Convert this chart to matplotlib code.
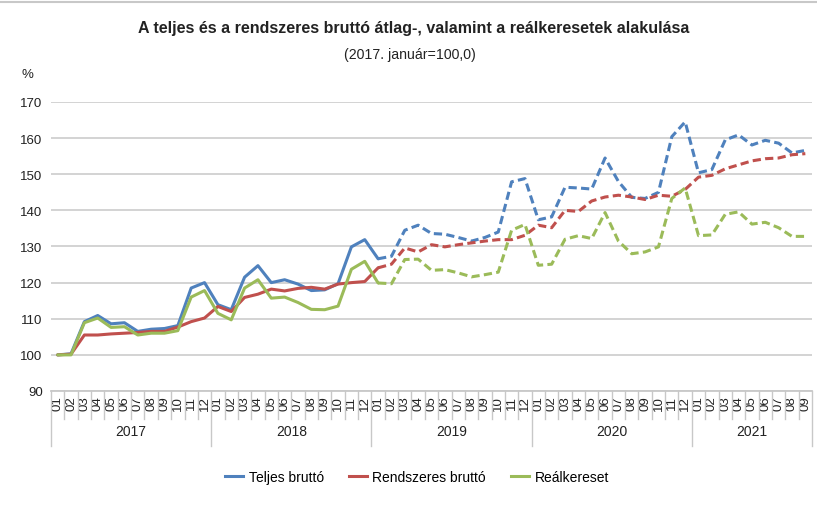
import matplotlib
matplotlib.use("Agg")
import matplotlib.pyplot as plt
import matplotlib.transforms as mtransforms
from matplotlib.lines import Line2D

plt.rcParams['font.family'] = ['Liberation Sans', 'DejaVu Sans']

years = ["2017", "2018", "2019", "2020", "2021"]
months_per_year = [12, 12, 12, 12, 9]
month_labels = [f"{m:02d}" for n in months_per_year for m in range(1, n + 1)]

teljes = [100.0, 100.3, 109.2, 110.9, 108.6, 108.9, 106.5, 107.1, 107.3, 108.1, 118.5, 120.0,
          113.9, 112.5, 121.5, 124.7, 120.0, 120.8, 119.6, 117.8, 118.0, 119.7, 129.9, 131.9,
          126.6, 127.3, 134.5, 135.9, 133.6, 133.4, 132.5, 131.5, 132.5, 134.0, 147.9, 148.8,
          137.4, 138.2, 146.4, 146.2, 145.9, 154.5, 148.0, 143.6, 143.3, 145.0, 160.4, 164.5,
          150.4, 151.3, 159.5, 160.9, 158.1, 159.4, 158.6, 155.9, 156.6]
rendszeres = [100.0, 100.2, 105.5, 105.5, 105.8, 106.0, 106.2, 106.5, 106.5, 107.7, 109.2, 110.2,
              113.4, 112.0, 115.9, 116.8, 118.2, 117.7, 118.4, 118.7, 118.2, 119.6, 120.0, 120.3,
              124.1, 125.1, 129.6, 128.5, 130.5, 129.9, 130.5, 131.0, 131.5, 131.9, 131.9, 133.1,
              135.9, 135.2, 140.0, 139.7, 142.6, 143.7, 144.2, 143.7, 143.0, 144.2, 143.9, 145.8,
              149.2, 149.7, 151.5, 152.6, 153.7, 154.3, 154.5, 155.4, 155.7]
real = [100.0, 100.0, 108.9, 110.2, 107.6, 107.8, 105.5, 106.0, 106.0, 106.7, 116.0, 117.8,
        111.5, 109.7, 118.5, 120.8, 115.7, 116.0, 114.5, 112.6, 112.5, 113.5, 123.7, 125.9,
        119.9, 119.7, 126.4, 126.5, 123.4, 123.6, 122.7, 121.6, 122.2, 122.9, 134.5, 136.1,
        124.8, 125.1, 132.0, 133.0, 132.2, 139.4, 131.5, 128.0, 128.5, 129.9, 143.3, 146.2,
        133.0, 133.2, 138.9, 139.6, 136.2, 136.7, 135.2, 132.8, 132.8]

series_names = ["Teljes bruttó", "Rendszeres bruttó", "Reálkereset"]
colors = ["#4F81BD", "#C0504D", "#9BBB59"]
split_index = 24  # 2019-01: solid before, dashed after
yticks = [90, 100, 110, 120, 130, 140, 150, 160, 170]

W, H = 817, 506
fig = plt.figure(figsize=(W / 100, H / 100), dpi=100)
fig.patch.set_facecolor("white")

left, right, top, bottom = 51, 812, 103, 392
ax = fig.add_axes([left / W, 1 - bottom / H, (right - left) / W, (bottom - top) / H])

n = len(month_labels)
x = list(range(n))
lw = 2.2
for vals, c in zip([teljes, rendszeres, real], colors):
    ax.plot(x[:split_index + 1], vals[:split_index + 1], color=c, lw=lw,
            solid_joinstyle='round', solid_capstyle='round', zorder=3)
    ax.plot(x[split_index:], vals[split_index:], color=c, lw=lw,
            linestyle=(0, (2.7, 1.4)), zorder=3)

ax.set_xlim(-0.5, n - 0.5)
ax.set_ylim(90, 170)
ax.set_yticks(yticks)
ax.set_yticklabels([str(v) for v in yticks], fontsize=9.5, color="#222222")
ax.yaxis.grid(True, color="#D0D0D0", lw=1.3)
ax.set_axisbelow(True)
for s in ["top", "right", "left"]:
    ax.spines[s].set_visible(False)
ax.spines["bottom"].set_color("#C8C8C8")
ax.spines["bottom"].set_linewidth(1.3)
ax.tick_params(axis="y", length=0, pad=6)

ax.set_xticks(x)
ax.set_xticklabels(month_labels, rotation=90, fontsize=9.5, color="#222222")
ax.tick_params(axis="x", length=0, pad=3)

# separators in the category axis
trans = mtransforms.blended_transform_factory(ax.transData, ax.transAxes)
ah = (bottom - top)
month_depth = -(420 - bottom) / ah
year_depth = -(447 - bottom) / ah
year_starts = [0]
for m in months_per_year:
    year_starts.append(year_starts[-1] + m)
for i in range(n + 1):
    depth = year_depth if i in year_starts else month_depth
    ax.add_line(Line2D([i - 0.5, i - 0.5], [0, depth], transform=trans, color="#C8C8C8",
                       lw=1.0, clip_on=False))
for yi, yr in enumerate(years):
    center = (year_starts[yi] + year_starts[yi + 1] - 1) / 2
    ax.text(center, -(432 - bottom) / ah, yr, transform=trans, ha="center", va="center",
            fontsize=10, color="#222222")

# top border line
fig.add_artist(Line2D([0, 1], [1 - 3 / H, 1 - 3 / H], color="#C8C8C8", lw=1.5))

fig.text(414 / W, 1 - 28 / H, "A teljes és a rendszeres bruttó átlag-, valamint a reálkeresetek alakulása",
         ha="center", va="center", fontsize=11.5, fontweight="bold", color="#222222")
fig.text(410 / W, 1 - 55 / H, "(2017. január=100,0)", ha="center", va="center",
         fontsize=10.2, color="#222222")
fig.text(21 / W, 1 - 75 / H, "%", ha="left", va="center", fontsize=9.5, color="#222222")

handles = [Line2D([], [], color=c, lw=lw) for c in colors]
fig.legend(handles, series_names, loc="center", bbox_to_anchor=(417 / W, 1 - 478 / H),
           ncol=3, frameon=False, fontsize=10, handlelength=1.3, columnspacing=1.8,
           handletextpad=0.4)

fig.savefig("out.png", dpi=100, facecolor="white")
